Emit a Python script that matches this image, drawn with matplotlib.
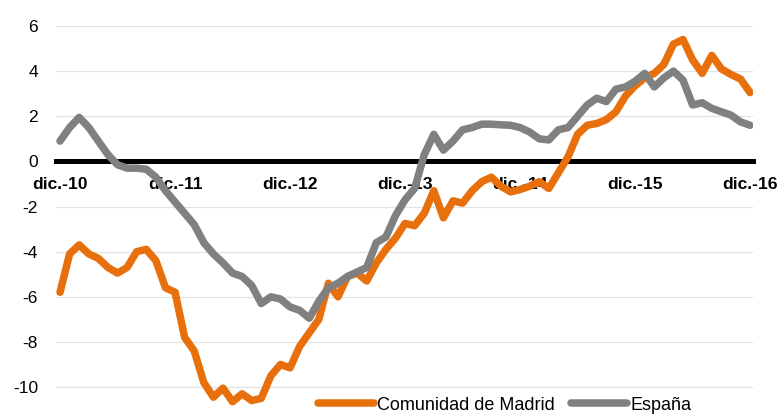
import matplotlib
matplotlib.use("Agg")
import matplotlib.pyplot as plt
import numpy as np

plt.rcParams['font.family'] = ['Liberation Sans', 'DejaVu Sans']

# monthly values, dic.-10 .. dic.-16
madrid = [-5.8, -4.1, -3.7, -4.1, -4.3, -4.7, -4.95, -4.7, -4.0, -3.9,
          -4.4, -5.6, -5.8, -7.8, -8.4, -9.8, -10.45, -10.05, -10.65, -10.3,
          -10.6, -10.5, -9.5, -9.0, -9.15, -8.2, -7.6, -7.0, -5.4, -6.0,
          -5.1, -4.95, -5.3, -4.5, -3.9, -3.4, -2.75, -2.85, -2.3, -1.3,
          -2.5, -1.75, -1.85, -1.3, -0.9, -0.7, -1.1, -1.35, -1.25, -1.1,
          -0.9, -1.2, -0.5, 0.2, 1.2, 1.6, 1.68, 1.85, 2.2, 2.9,
          3.35, 3.7, 3.9, 4.3, 5.2, 5.4, 4.5, 3.9, 4.7, 4.1,
          3.85, 3.65, 3.05]
espana = [0.9, 1.5, 1.95, 1.5, 0.9, 0.3, -0.15, -0.3, -0.3, -0.35,
          -0.7, -1.3, -1.8, -2.3, -2.8, -3.6, -4.1, -4.5, -4.95, -5.1,
          -5.5, -6.3, -6.0, -6.1, -6.45, -6.6, -6.95, -6.2, -5.6, -5.4,
          -5.1, -4.9, -4.7, -3.6, -3.35, -2.4, -1.7, -1.2, 0.3, 1.2,
          0.5, 0.9, 1.4, 1.5, 1.65, 1.65, 1.62, 1.6, 1.5, 1.3,
          1.0, 0.95, 1.4, 1.5, 2.0, 2.5, 2.8, 2.65, 3.2, 3.3,
          3.55, 3.9, 3.3, 3.7, 4.0, 3.6, 2.5, 2.6, 2.35, 2.2,
          2.05, 1.75, 1.6]
tick_labels = ['dic.-10', 'dic.-11', 'dic.-12', 'dic.-13', 'dic.-14', 'dic.-15', 'dic.-16']
yticks = [-10, -8, -6, -4, -2, 0, 2, 4, 6]

x = np.arange(len(madrid))

fig = plt.figure(figsize=(7.77, 4.16), dpi=100)
ax = fig.add_axes([56/777, 6.4/416, 697/777, 383.6/416])

ax.plot(x, madrid, color='#E8700C', lw=5.4, solid_capstyle='round',
        solid_joinstyle='round', zorder=3, label='Comunidad de Madrid')
ax.plot(x, espana, color='#808080', lw=5.4, solid_capstyle='round',
        solid_joinstyle='round', zorder=3, label='España')

# spine position first: it resets the ticks
for s in ['top', 'right', 'left']:
    ax.spines[s].set_visible(False)
ax.spines['bottom'].set_position(('data', 0))
ax.spines['bottom'].set_linewidth(3.6)
ax.spines['bottom'].set_color('black')
ax.spines['bottom'].set_zorder(2.5)

ax.set_xlim(-0.42, 72.3)
ax.set_ylim(-11, 6)
ax.set_yticks(yticks)
ax.set_yticklabels([str(v) for v in yticks])
ax.set_xticks(np.arange(0, 73, 12))
ax.set_xticklabels(tick_labels, fontsize=12.6, fontweight='bold')
ax.tick_params(axis='x', length=0, pad=11)
ax.tick_params(axis='y', length=0, pad=13, labelsize=12.5)

for v in yticks:
    if v != 0:
        ax.axhline(v, color='#E3E3E3', lw=0.9, zorder=1)

ax.legend(loc='center', bbox_to_anchor=(505/777, 1 - 405/416),
          bbox_transform=fig.transFigure, ncol=2, frameon=False,
          fontsize=13, handlelength=3.05, handletextpad=0.22,
          columnspacing=0.9, borderpad=0)

fig.savefig('out.png', dpi=100)
